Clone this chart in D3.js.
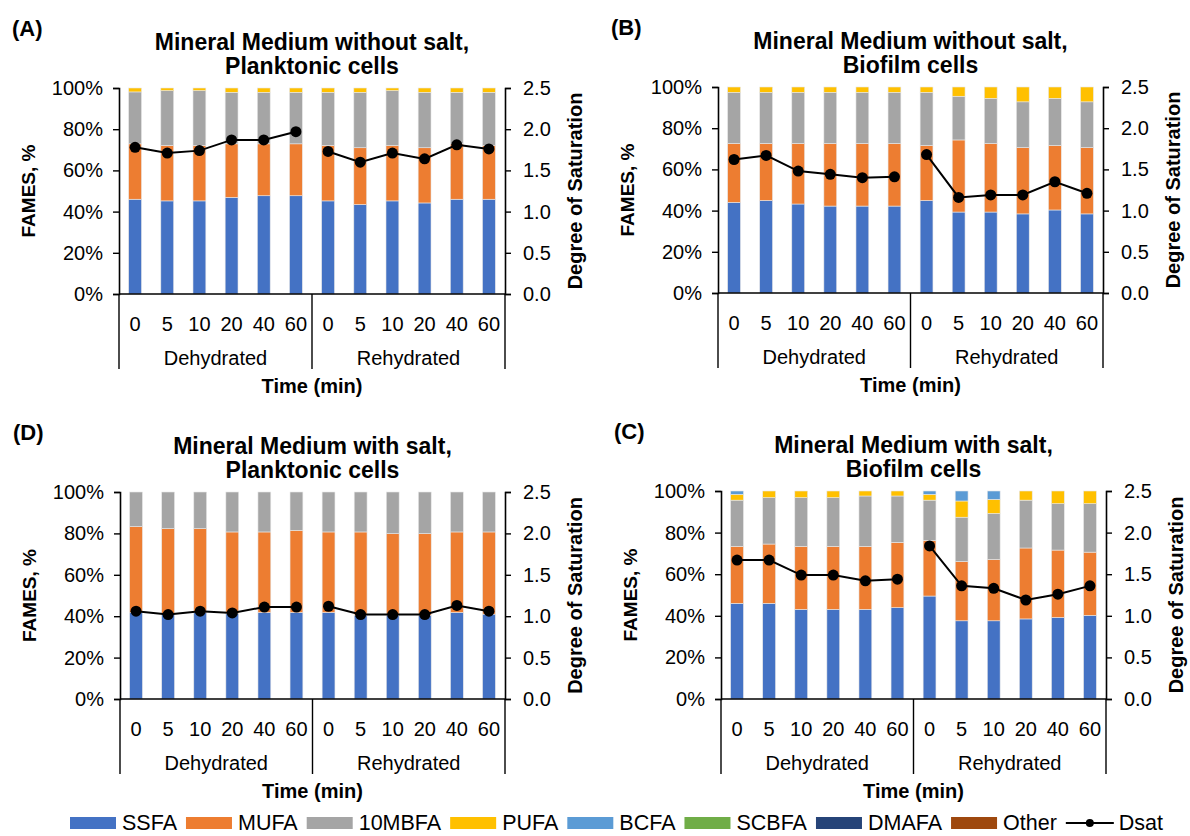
<!DOCTYPE html>
<html>
<head>
<meta charset="utf-8">
<script src="https://cdn.jsdelivr.net/npm/d3@7"></script>
<style>
  body { margin: 0; background: #fff; }
  svg { font-family: "Liberation Sans", Arial, sans-serif; }
</style>
</head>
<body>
<div id="chart"></div>
<script>
// categories
const times = ["0", "5", "10", "20", "40", "60"];
const groups = ["Dehydrated", "Rehydrated"];
const series = ["SSFA", "MUFA", "10MBFA", "PUFA", "BCFA", "SCBFA", "DMAFA", "Other"];
const colors = ["#4472C4", "#ED7D31", "#A5A5A5", "#FFC000", "#5B9BD5", "#70AD47", "#264478", "#9E480E"];
const yTicks = [0, 20, 40, 60, 80, 100];
const dTicks = [0, 0.5, 1.0, 1.5, 2.0, 2.5];

// (A) without salt, planktonic
const aSSFA   = [46.0, 45.2, 45.2, 46.9, 47.7, 47.7, 45.2, 43.4, 45.2, 44.2, 46.0, 46.0];
const aMUFA   = [26.9, 26.9, 26.9, 26.0, 25.2, 25.2, 26.9, 27.6, 26.9, 26.8, 26.9, 26.1];
const a10MBFA = [25.2, 26.6, 26.6, 25.0, 25.0, 25.0, 25.8, 26.9, 26.6, 26.9, 25.0, 25.8];
const aPUFA   = [1.9, 1.3, 1.3, 2.1, 2.1, 2.1, 2.1, 2.1, 1.3, 2.1, 2.1, 2.1];
const aDsat   = [1.78, 1.71, 1.74, 1.87, 1.87, 1.97, 1.73, 1.60, 1.71, 1.64, 1.81, 1.76];

// (B) without salt, biofilm
const bSSFA   = [44.0, 44.9, 43.2, 42.2, 42.2, 42.2, 44.9, 39.3, 39.3, 38.4, 40.3, 38.4];
const bMUFA   = [28.6, 27.7, 29.4, 30.4, 30.4, 30.4, 26.7, 35.0, 33.3, 32.2, 31.3, 32.2];
const b10MBFA = [24.8, 24.8, 24.8, 24.8, 24.8, 24.8, 25.8, 21.2, 21.9, 22.2, 22.9, 22.2];
const bPUFA   = [2.6, 2.6, 2.6, 2.6, 2.6, 2.6, 2.6, 4.5, 5.5, 7.2, 5.5, 7.2];
const bDsat   = [1.62, 1.67, 1.48, 1.44, 1.40, 1.41, 1.68, 1.16, 1.19, 1.19, 1.35, 1.21];

// (D) with salt, planktonic
const dSSFA   = [41.8, 41.3, 41.8, 41.3, 41.8, 41.8, 41.8, 40.5, 40.5, 40.5, 41.8, 41.0];
const dMUFA   = [41.5, 41.0, 40.5, 39.4, 38.9, 39.7, 38.9, 40.2, 39.4, 39.4, 38.9, 39.7];
const d10MBFA = [16.7, 17.7, 17.7, 19.3, 19.3, 18.5, 19.3, 19.3, 20.1, 20.1, 19.3, 19.3];
const dDsat   = [1.06, 1.02, 1.06, 1.04, 1.11, 1.11, 1.12, 1.02, 1.02, 1.02, 1.13, 1.06];

// (C) with salt, biofilm
const cSSFA   = [46.0, 46.0, 43.1, 43.1, 43.1, 43.9, 49.5, 37.6, 37.6, 38.5, 39.2, 40.2];
const cMUFA   = [27.4, 28.5, 30.3, 30.3, 30.3, 31.4, 26.8, 28.5, 29.5, 34.1, 32.4, 30.4];
const c10MBFA = [22.2, 22.3, 23.4, 23.4, 24.2, 22.3, 19.3, 21.3, 22.1, 23.0, 22.3, 23.3];
const cPUFA   = [2.8, 3.2, 3.2, 3.2, 2.4, 2.4, 2.8, 7.8, 6.8, 4.4, 6.1, 6.1];
const cBCFA   = [1.6, 0, 0, 0, 0, 0, 1.6, 4.8, 4.0, 0, 0, 0];
const cDsat   = [1.67, 1.67, 1.49, 1.49, 1.42, 1.44, 1.84, 1.36, 1.33, 1.19, 1.26, 1.36];

const zeros = new Array(12).fill(0);

const panels = [
  { tag: "(A)", t1: "Mineral Medium without salt,", t2: "Planktonic cells",
    x0: 119, x1: 505, y0: 88, y1: 294,
    vals: [aSSFA, aMUFA, a10MBFA, aPUFA, zeros, zeros, zeros, zeros], dsat: aDsat },
  { tag: "(B)", t1: "Mineral Medium without salt,", t2: "Biofilm cells",
    x0: 718, x1: 1103, y0: 87, y1: 293,
    vals: [bSSFA, bMUFA, b10MBFA, bPUFA, zeros, zeros, zeros, zeros], dsat: bDsat },
  { tag: "(D)", t1: "Mineral Medium with salt,", t2: "Planktonic cells",
    x0: 120, x1: 505, y0: 492, y1: 699,
    vals: [dSSFA, dMUFA, d10MBFA, zeros, zeros, zeros, zeros, zeros], dsat: dDsat },
  { tag: "(C)", t1: "Mineral Medium with salt,", t2: "Biofilm cells",
    x0: 721, x1: 1106, y0: 491, y1: 699,
    vals: [cSSFA, cMUFA, c10MBFA, cPUFA, cBCFA, zeros, zeros, zeros], dsat: cDsat }
];

const W = 1190, H = 836;
const svg = d3.select("#chart").append("svg")
  .attr("width", W).attr("height", H);

const cats = [];
groups.forEach(g => times.forEach(t => cats.push(g + "|" + t)));

function drawPanel(p) {
  const g = svg.append("g");
  const x = d3.scaleBand().domain(cats).range([p.x0, p.x1])
    .paddingInner(0.6).paddingOuter(0.3);
  const y = d3.scaleLinear().domain([0, 100]).range([p.y1, p.y0]);
  const y2 = d3.scaleLinear().domain([0, 2.5]).range([p.y1, p.y0]);

  const rows = cats.map((c, i) => {
    const r = { cat: c };
    series.forEach((s, k) => r[s] = p.vals[k][i]);
    return r;
  });
  const stacked = d3.stack().keys(series)(rows);

  g.append("g").selectAll("g")
    .data(stacked)
    .join("g")
    .attr("fill", (d, i) => colors[i])
    .selectAll("rect")
    .data(d => d.filter(v => v[1] - v[0] > 0))
    .join("rect")
    .attr("x", d => x(d.data.cat))
    .attr("width", x.bandwidth())
    .attr("y", d => y(d[1]))
    .attr("height", d => y(d[0]) - y(d[1]))
    .attr("stroke", "#e8e8e8")
    .attr("stroke-width", 0.6);

  // axes
  const left = d3.axisLeft(y).tickValues(yTicks).tickSize(6).tickPadding(10)
    .tickFormat(d => d + "%");
  const right = d3.axisRight(y2).tickValues(dTicks).tickSize(6).tickPadding(12)
    .tickFormat(d3.format(".1f"));

  const gl = g.append("g").attr("transform", `translate(${p.x0},0)`).call(left);
  const gr = g.append("g").attr("transform", `translate(${p.x1},0)`).call(right);
  [gl, gr].forEach(a => {
    a.select(".domain").attr("stroke", "#000").attr("stroke-width", 1.6);
    a.selectAll(".tick line").attr("stroke", "#000").attr("stroke-width", 1.4);
    a.selectAll("text").attr("font-size", 20).attr("fill", "#000")
      .style("font-family", "Liberation Sans, Arial, sans-serif");
  });

  // bottom axis line and group separators
  g.append("line")
    .attr("x1", p.x0).attr("x2", p.x1).attr("y1", p.y1).attr("y2", p.y1)
    .attr("stroke", "#000").attr("stroke-width", 1.6);
  const mid = (x(cats[5]) + x.bandwidth() + x(cats[6])) / 2;
  [p.x0, mid, p.x1].forEach(sx => {
    g.append("line")
      .attr("x1", sx).attr("x2", sx).attr("y1", p.y1).attr("y2", p.y1 + 75)
      .attr("stroke", "#000").attr("stroke-width", 1.4);
  });

  // category labels
  g.append("g").selectAll("text")
    .data(cats)
    .join("text")
    .attr("x", d => x(d) + x.bandwidth() / 2)
    .attr("y", p.y1 + 37)
    .attr("text-anchor", "middle")
    .attr("font-size", 20)
    .text(d => d.split("|")[1]);

  g.append("g").selectAll("text")
    .data(groups)
    .join("text")
    .attr("x", (d, i) => i === 0 ? (p.x0 + mid) / 2 : (mid + p.x1) / 2)
    .attr("y", p.y1 + 71)
    .attr("text-anchor", "middle")
    .attr("font-size", 20)
    .text(d => d);

  g.append("text")
    .attr("x", (p.x0 + p.x1) / 2).attr("y", p.y1 + 99)
    .attr("text-anchor", "middle")
    .attr("font-size", 20).attr("font-weight", "bold")
    .text("Time (min)");

  // titles
  g.append("text")
    .attr("x", (p.x0 + p.x1) / 2).attr("y", p.y0 - 38)
    .attr("text-anchor", "middle")
    .attr("font-size", 23).attr("font-weight", "bold")
    .text(p.t1);
  g.append("text")
    .attr("x", (p.x0 + p.x1) / 2).attr("y", p.y0 - 14)
    .attr("text-anchor", "middle")
    .attr("font-size", 23).attr("font-weight", "bold")
    .text(p.t2);
  g.append("text")
    .attr("x", p.x0 - 107).attr("y", p.y0 - 52)
    .attr("font-size", 22).attr("font-weight", "bold")
    .text(p.tag);

  // axis titles
  const cy = (p.y0 + p.y1) / 2;
  g.append("text")
    .attr("transform", `translate(${p.x0 - 84},${cy}) rotate(-90)`)
    .attr("text-anchor", "middle")
    .attr("font-size", 19).attr("font-weight", "bold")
    .text("FAMES, %");
  g.append("text")
    .attr("transform", `translate(${p.x1 + 77},${cy}) rotate(-90)`)
    .attr("text-anchor", "middle")
    .attr("font-size", 20).attr("font-weight", "bold")
    .text("Degree of Saturation");

  // Dsat lines, broken between Dehydrated and Rehydrated
  const pts = cats.map((c, i) => ({ cat: c, v: p.dsat[i], grp: c.split("|")[0] }));
  const line = d3.line()
    .x(d => x(d.cat) + x.bandwidth() / 2)
    .y(d => y2(d.v));
  groups.forEach(gn => {
    g.append("path")
      .datum(pts.filter(d => d.grp === gn))
      .attr("fill", "none").attr("stroke", "#000").attr("stroke-width", 2)
      .attr("d", line);
  });
  g.append("g").selectAll("circle")
    .data(pts)
    .join("circle")
    .attr("cx", d => x(d.cat) + x.bandwidth() / 2)
    .attr("cy", d => y2(d.v))
    .attr("r", 5.5)
    .attr("fill", "#000");
}

panels.forEach(drawPanel);

// legend
const leg = svg.append("g").attr("transform", "translate(70,823)");
let lx = 0;
series.forEach((s, i) => {
  leg.append("rect")
    .attr("x", lx).attr("y", -6).attr("width", 46).attr("height", 12)
    .attr("fill", colors[i]);
  const t = leg.append("text")
    .attr("x", lx + 52).attr("y", 7)
    .attr("font-size", 21.5)
    .text(s);
  lx += 52 + t.node().getComputedTextLength() + 9;
});
leg.append("line")
  .attr("x1", lx).attr("x2", lx + 48).attr("y1", 0).attr("y2", 0)
  .attr("stroke", "#000").attr("stroke-width", 2);
leg.append("circle")
  .attr("cx", lx + 24).attr("cy", 0).attr("r", 4).attr("fill", "#000");
leg.append("text")
  .attr("x", lx + 53).attr("y", 7)
  .attr("font-size", 21.5)
  .text("Dsat");
</script>
</body>
</html>
